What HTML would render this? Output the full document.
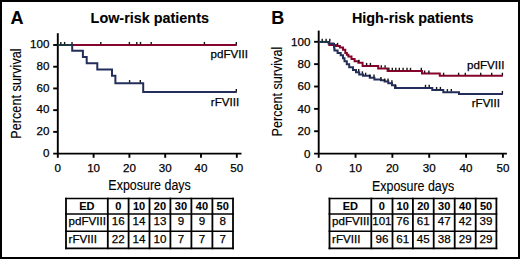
<!DOCTYPE html>
<html><head><meta charset="utf-8"><style>
html,body{margin:0;padding:0;background:#fff;}
body{width:520px;height:259px;overflow:hidden;position:relative;}
.frame{position:absolute;left:0;top:0;width:516px;height:255px;border:2px solid #000;}
svg{position:absolute;left:0;top:0;}
.t{font-family:"Liberation Sans",sans-serif;fill:#000;stroke:#000;stroke-width:0.25px;}
.ns{stroke-width:0.12px;}
.b{stroke-width:0.1px;}
</style></head><body>
<div class="frame"></div>
<svg width="520" height="259" viewBox="0 0 520 259">
<line x1="57.8" y1="33.2" x2="57.8" y2="157.8" stroke="#000" stroke-width="1.9"/>
<line x1="53.2" y1="153.6" x2="241.5" y2="153.6" stroke="#000" stroke-width="1.9"/>
<line x1="53.2" y1="131.88" x2="57.8" y2="131.88" stroke="#000" stroke-width="1.9"/>
<line x1="53.2" y1="110.16" x2="57.8" y2="110.16" stroke="#000" stroke-width="1.9"/>
<line x1="53.2" y1="88.44" x2="57.8" y2="88.44" stroke="#000" stroke-width="1.9"/>
<line x1="53.2" y1="66.72" x2="57.8" y2="66.72" stroke="#000" stroke-width="1.9"/>
<line x1="53.2" y1="45.0" x2="57.8" y2="45.0" stroke="#000" stroke-width="1.9"/>
<line x1="93.6" y1="153.6" x2="93.6" y2="157.8" stroke="#000" stroke-width="1.9"/>
<line x1="129.4" y1="153.6" x2="129.4" y2="157.8" stroke="#000" stroke-width="1.9"/>
<line x1="165.2" y1="153.6" x2="165.2" y2="157.8" stroke="#000" stroke-width="1.9"/>
<line x1="201.0" y1="153.6" x2="201.0" y2="157.8" stroke="#000" stroke-width="1.9"/>
<line x1="236.8" y1="153.6" x2="236.8" y2="157.8" stroke="#000" stroke-width="1.9"/>
<text class="t" x="49.4" y="156.8" font-size="11.6" text-anchor="end">0</text>
<text class="t" x="49.4" y="135.08" font-size="11.6" text-anchor="end">20</text>
<text class="t" x="49.4" y="113.36" font-size="11.6" text-anchor="end">40</text>
<text class="t" x="49.4" y="91.64" font-size="11.6" text-anchor="end">60</text>
<text class="t" x="49.4" y="69.92" font-size="11.6" text-anchor="end">80</text>
<text class="t" x="49.4" y="48.2" font-size="11.6" text-anchor="end">100</text>
<text class="t" x="57.8" y="171.7" font-size="11.6" text-anchor="middle">0</text>
<text class="t" x="93.6" y="171.7" font-size="11.6" text-anchor="middle">10</text>
<text class="t" x="129.4" y="171.7" font-size="11.6" text-anchor="middle">20</text>
<text class="t" x="165.2" y="171.7" font-size="11.6" text-anchor="middle">30</text>
<text class="t" x="201.0" y="171.7" font-size="11.6" text-anchor="middle">40</text>
<text class="t" x="236.8" y="171.7" font-size="11.6" text-anchor="middle">50</text>
<line x1="318.7" y1="30.6" x2="318.7" y2="157.8" stroke="#000" stroke-width="1.9"/>
<line x1="314.1" y1="153.6" x2="506.9" y2="153.6" stroke="#000" stroke-width="1.9"/>
<line x1="314.1" y1="131.24" x2="318.7" y2="131.24" stroke="#000" stroke-width="1.9"/>
<line x1="314.1" y1="108.88" x2="318.7" y2="108.88" stroke="#000" stroke-width="1.9"/>
<line x1="314.1" y1="86.52" x2="318.7" y2="86.52" stroke="#000" stroke-width="1.9"/>
<line x1="314.1" y1="64.16" x2="318.7" y2="64.16" stroke="#000" stroke-width="1.9"/>
<line x1="314.1" y1="41.8" x2="318.7" y2="41.8" stroke="#000" stroke-width="1.9"/>
<line x1="355.54" y1="153.6" x2="355.54" y2="157.8" stroke="#000" stroke-width="1.9"/>
<line x1="392.38" y1="153.6" x2="392.38" y2="157.8" stroke="#000" stroke-width="1.9"/>
<line x1="429.22" y1="153.6" x2="429.22" y2="157.8" stroke="#000" stroke-width="1.9"/>
<line x1="466.06" y1="153.6" x2="466.06" y2="157.8" stroke="#000" stroke-width="1.9"/>
<line x1="502.9" y1="153.6" x2="502.9" y2="157.8" stroke="#000" stroke-width="1.9"/>
<text class="t" x="310.4" y="157.5" font-size="11.6" text-anchor="end">0</text>
<text class="t" x="310.4" y="135.14" font-size="11.6" text-anchor="end">20</text>
<text class="t" x="310.4" y="112.78" font-size="11.6" text-anchor="end">40</text>
<text class="t" x="310.4" y="90.42" font-size="11.6" text-anchor="end">60</text>
<text class="t" x="310.4" y="68.06" font-size="11.6" text-anchor="end">80</text>
<text class="t" x="310.4" y="45.7" font-size="11.6" text-anchor="end">100</text>
<text class="t" x="318.7" y="171.7" font-size="11.6" text-anchor="middle">0</text>
<text class="t" x="355.54" y="171.7" font-size="11.6" text-anchor="middle">10</text>
<text class="t" x="392.38" y="171.7" font-size="11.6" text-anchor="middle">20</text>
<text class="t" x="429.22" y="171.7" font-size="11.6" text-anchor="middle">30</text>
<text class="t" x="466.06" y="171.7" font-size="11.6" text-anchor="middle">40</text>
<text class="t" x="502.9" y="171.7" font-size="11.6" text-anchor="middle">50</text>
<path d="M57.8,45.0H236.8" fill="none" stroke="#86042c" stroke-width="2.0"/>
<line x1="100.8" y1="44.4" x2="100.8" y2="41.9" stroke="#141414" stroke-width="1.4"/>
<line x1="129.4" y1="44.4" x2="129.4" y2="41.9" stroke="#141414" stroke-width="1.4"/>
<line x1="136.8" y1="44.4" x2="136.8" y2="41.9" stroke="#141414" stroke-width="1.4"/>
<line x1="140.5" y1="44.4" x2="140.5" y2="41.9" stroke="#141414" stroke-width="1.4"/>
<line x1="151.2" y1="44.4" x2="151.2" y2="41.9" stroke="#141414" stroke-width="1.4"/>
<line x1="204.4" y1="44.4" x2="204.4" y2="41.9" stroke="#141414" stroke-width="1.4"/>
<line x1="236.3" y1="44.4" x2="236.3" y2="41.9" stroke="#141414" stroke-width="1.4"/>
<path d="M57.8,45.0H72.2V50.7H82.9V57.0H86.7V63.2H97.3V69.5H112.0V75.7H115.4V83.2H143.2V92.0H236.8" fill="none" stroke="#232f5a" stroke-width="2.0"/>
<path d="M57.8,45.0H72.2" fill="none" stroke="#1d3a44" stroke-width="2.0"/>
<line x1="60.8" y1="44.4" x2="60.8" y2="41.9" stroke="#141414" stroke-width="1.4"/>
<line x1="64.6" y1="44.4" x2="64.6" y2="41.9" stroke="#141414" stroke-width="1.4"/>
<line x1="72.0" y1="44.4" x2="72.0" y2="41.9" stroke="#141414" stroke-width="1.4"/>
<line x1="129.6" y1="82.6" x2="129.6" y2="80.1" stroke="#141414" stroke-width="1.4"/>
<line x1="140.3" y1="82.6" x2="140.3" y2="80.1" stroke="#141414" stroke-width="1.4"/>
<line x1="236.3" y1="91.4" x2="236.3" y2="88.9" stroke="#141414" stroke-width="1.4"/>
<path d="M318.7,41.9H328.3V41.9H329.3V45.0H336.0V45.9H339.9V47.4H343.0V49.8H345.3V52.9H346.85V54.75H348.4V56.6H351.5V58.9H354.6V61.2H358.4V62.8H362.6V66.0H378.2V68.4H387.6V70.9H422.0V73.6H439.8V75.8H502.9" fill="none" stroke="#86042c" stroke-width="2.0"/>
<line x1="337.6" y1="45.3" x2="337.6" y2="42.8" stroke="#141414" stroke-width="1.4"/>
<line x1="358.9" y1="62.2" x2="358.9" y2="59.7" stroke="#141414" stroke-width="1.4"/>
<line x1="366.6" y1="65.4" x2="366.6" y2="62.9" stroke="#141414" stroke-width="1.4"/>
<line x1="370.4" y1="65.4" x2="370.4" y2="62.9" stroke="#141414" stroke-width="1.4"/>
<line x1="381.3" y1="67.8" x2="381.3" y2="65.3" stroke="#141414" stroke-width="1.4"/>
<line x1="385.1" y1="67.8" x2="385.1" y2="65.3" stroke="#141414" stroke-width="1.4"/>
<line x1="388.9" y1="70.3" x2="388.9" y2="67.8" stroke="#141414" stroke-width="1.4"/>
<line x1="392.3" y1="70.3" x2="392.3" y2="67.8" stroke="#141414" stroke-width="1.4"/>
<line x1="395.8" y1="70.3" x2="395.8" y2="67.8" stroke="#141414" stroke-width="1.4"/>
<line x1="399.3" y1="70.3" x2="399.3" y2="67.8" stroke="#141414" stroke-width="1.4"/>
<line x1="403.1" y1="70.3" x2="403.1" y2="67.8" stroke="#141414" stroke-width="1.4"/>
<line x1="407.0" y1="70.3" x2="407.0" y2="67.8" stroke="#141414" stroke-width="1.4"/>
<line x1="410.5" y1="70.3" x2="410.5" y2="67.8" stroke="#141414" stroke-width="1.4"/>
<line x1="421.3" y1="70.3" x2="421.3" y2="67.8" stroke="#141414" stroke-width="1.4"/>
<line x1="424.6" y1="73.0" x2="424.6" y2="70.5" stroke="#141414" stroke-width="1.4"/>
<line x1="428.9" y1="73.0" x2="428.9" y2="70.5" stroke="#141414" stroke-width="1.4"/>
<line x1="443.6" y1="75.2" x2="443.6" y2="72.7" stroke="#141414" stroke-width="1.4"/>
<line x1="458.6" y1="75.2" x2="458.6" y2="72.7" stroke="#141414" stroke-width="1.4"/>
<line x1="465.3" y1="75.2" x2="465.3" y2="72.7" stroke="#141414" stroke-width="1.4"/>
<line x1="480.7" y1="75.2" x2="480.7" y2="72.7" stroke="#141414" stroke-width="1.4"/>
<line x1="491.7" y1="75.2" x2="491.7" y2="72.7" stroke="#141414" stroke-width="1.4"/>
<line x1="502.4" y1="75.2" x2="502.4" y2="72.7" stroke="#141414" stroke-width="1.4"/>
<path d="M318.7,41.9H328.3V41.9H328.6V43.4H333.0V43.8H334.0V47.0H334.25V48.8H334.5V50.6H337.6V53.0H340.7V55.3H343.0V58.2H344.5V61.2H346.8V64.3H349.2V67.3H353.0V69.9H356.0V72.2H359.2V74.4H363.0V75.8H369.8V77.7H374.4V79.6H380.9V80.2H384.6V81.6H388.3V83.3H392.0V85.3H395.0V87.9H432.3V90.0H443.3V92.2H459.0V94.0H502.9" fill="none" stroke="#232f5a" stroke-width="2.0"/>
<path d="M318.7,41.9H328.3" fill="none" stroke="#1d3a44" stroke-width="2.0"/>
<line x1="322.2" y1="41.3" x2="322.2" y2="38.8" stroke="#141414" stroke-width="1.4"/>
<line x1="326.1" y1="41.3" x2="326.1" y2="38.8" stroke="#141414" stroke-width="1.4"/>
<line x1="329.8" y1="41.3" x2="329.8" y2="38.8" stroke="#141414" stroke-width="1.4"/>
<line x1="358.7" y1="71.6" x2="358.7" y2="69.1" stroke="#141414" stroke-width="1.4"/>
<line x1="362.4" y1="73.8" x2="362.4" y2="71.3" stroke="#141414" stroke-width="1.4"/>
<line x1="365.6" y1="75.2" x2="365.6" y2="72.7" stroke="#141414" stroke-width="1.4"/>
<line x1="369.8" y1="77.1" x2="369.8" y2="74.6" stroke="#141414" stroke-width="1.4"/>
<line x1="374.0" y1="77.1" x2="374.0" y2="74.6" stroke="#141414" stroke-width="1.4"/>
<line x1="380.9" y1="79.6" x2="380.9" y2="77.1" stroke="#141414" stroke-width="1.4"/>
<line x1="384.6" y1="81.0" x2="384.6" y2="78.5" stroke="#141414" stroke-width="1.4"/>
<line x1="388.0" y1="81.0" x2="388.0" y2="78.5" stroke="#141414" stroke-width="1.4"/>
<line x1="391.9" y1="82.7" x2="391.9" y2="80.2" stroke="#141414" stroke-width="1.4"/>
<line x1="395.8" y1="87.3" x2="395.8" y2="84.8" stroke="#141414" stroke-width="1.4"/>
<line x1="425.5" y1="87.3" x2="425.5" y2="84.8" stroke="#141414" stroke-width="1.4"/>
<line x1="429.2" y1="87.3" x2="429.2" y2="84.8" stroke="#141414" stroke-width="1.4"/>
<line x1="436.6" y1="89.4" x2="436.6" y2="86.9" stroke="#141414" stroke-width="1.4"/>
<line x1="440.4" y1="89.4" x2="440.4" y2="86.9" stroke="#141414" stroke-width="1.4"/>
<line x1="447.4" y1="91.6" x2="447.4" y2="89.1" stroke="#141414" stroke-width="1.4"/>
<line x1="451.3" y1="91.6" x2="451.3" y2="89.1" stroke="#141414" stroke-width="1.4"/>
<line x1="502.4" y1="93.4" x2="502.4" y2="90.9" stroke="#141414" stroke-width="1.4"/>
<text class="t" x="210.6" y="57.8" font-size="11.6">pdFVIII</text>
<text class="t" x="210.8" y="105.5" font-size="11.6">rFVIII</text>
<text class="t" x="467.0" y="68.8" font-size="11.6">pdFVIII</text>
<text class="t" x="471.7" y="106.7" font-size="11.6">rFVIII</text>
<text class="t b" x="10.6" y="24" font-size="18" font-weight="bold">A</text>
<text class="t b" x="271.2" y="24" font-size="18" font-weight="bold">B</text>
<text class="t b" x="90.6" y="22.6" font-size="14.4" font-weight="bold">Low-risk patients</text>
<text class="t b" x="351.9" y="22.6" font-size="14.4" font-weight="bold">High-risk patients</text>
<text class="t ns" x="149.6" y="190.4" font-size="15.2" text-anchor="middle" textLength="82.5" lengthAdjust="spacingAndGlyphs">Exposure days</text>
<text class="t ns" x="413.1" y="190.5" font-size="15.2" text-anchor="middle" textLength="82.3" lengthAdjust="spacingAndGlyphs">Exposure days</text>
<text class="t ns" transform="translate(21.3,93.55) rotate(-90)" font-size="14.4" text-anchor="middle" textLength="90.5" lengthAdjust="spacingAndGlyphs">Percent survival</text>
<text class="t ns" transform="translate(281.5,91.65) rotate(-90)" font-size="14.4" text-anchor="middle" textLength="89.7" lengthAdjust="spacingAndGlyphs">Percent survival</text>
<line x1="66.0" y1="197.7" x2="66.0" y2="249.2" stroke="#000" stroke-width="1.8"/>
<line x1="107.8" y1="197.7" x2="107.8" y2="249.2" stroke="#000" stroke-width="1.8"/>
<line x1="128.6" y1="197.7" x2="128.6" y2="249.2" stroke="#000" stroke-width="1.8"/>
<line x1="149.5" y1="197.7" x2="149.5" y2="249.2" stroke="#000" stroke-width="1.8"/>
<line x1="170.4" y1="197.7" x2="170.4" y2="249.2" stroke="#000" stroke-width="1.8"/>
<line x1="191.4" y1="197.7" x2="191.4" y2="249.2" stroke="#000" stroke-width="1.8"/>
<line x1="212.4" y1="197.7" x2="212.4" y2="249.2" stroke="#000" stroke-width="1.8"/>
<line x1="233.0" y1="197.7" x2="233.0" y2="249.2" stroke="#000" stroke-width="1.8"/>
<line x1="65.1" y1="198.5" x2="233.9" y2="198.5" stroke="#000" stroke-width="1.6"/>
<line x1="65.1" y1="214.0" x2="233.9" y2="214.0" stroke="#000" stroke-width="1.6"/>
<line x1="65.1" y1="231.3" x2="233.9" y2="231.3" stroke="#000" stroke-width="1.6"/>
<line x1="65.1" y1="248.4" x2="233.9" y2="248.4" stroke="#000" stroke-width="1.6"/>
<text class="t b" x="86.9" y="209.5" font-size="11" font-weight="bold" text-anchor="middle">ED</text>
<text class="t b" x="118.2" y="209.5" font-size="11" font-weight="bold" text-anchor="middle">0</text>
<text class="t b" x="139.05" y="209.5" font-size="11" font-weight="bold" text-anchor="middle">10</text>
<text class="t b" x="159.95" y="209.5" font-size="11" font-weight="bold" text-anchor="middle">20</text>
<text class="t b" x="180.9" y="209.5" font-size="11" font-weight="bold" text-anchor="middle">30</text>
<text class="t b" x="201.9" y="209.5" font-size="11" font-weight="bold" text-anchor="middle">40</text>
<text class="t b" x="222.7" y="209.5" font-size="11" font-weight="bold" text-anchor="middle">50</text>
<text class="t" x="68.6" y="225.0" font-size="11.6">pdFVIII</text>
<text class="t" x="118.2" y="225.0" font-size="11.6" text-anchor="middle">16</text>
<text class="t" x="139.05" y="225.0" font-size="11.6" text-anchor="middle">14</text>
<text class="t" x="159.95" y="225.0" font-size="11.6" text-anchor="middle">13</text>
<text class="t" x="180.9" y="225.0" font-size="11.6" text-anchor="middle">9</text>
<text class="t" x="201.9" y="225.0" font-size="11.6" text-anchor="middle">9</text>
<text class="t" x="222.7" y="225.0" font-size="11.6" text-anchor="middle">8</text>
<text class="t" x="68.6" y="242.9" font-size="11.6">rFVIII</text>
<text class="t" x="118.2" y="242.9" font-size="11.6" text-anchor="middle">22</text>
<text class="t" x="139.05" y="242.9" font-size="11.6" text-anchor="middle">14</text>
<text class="t" x="159.95" y="242.9" font-size="11.6" text-anchor="middle">10</text>
<text class="t" x="180.9" y="242.9" font-size="11.6" text-anchor="middle">7</text>
<text class="t" x="201.9" y="242.9" font-size="11.6" text-anchor="middle">7</text>
<text class="t" x="222.7" y="242.9" font-size="11.6" text-anchor="middle">7</text>
<line x1="329.5" y1="197.7" x2="329.5" y2="249.2" stroke="#000" stroke-width="1.8"/>
<line x1="371.3" y1="197.7" x2="371.3" y2="249.2" stroke="#000" stroke-width="1.8"/>
<line x1="392.5" y1="197.7" x2="392.5" y2="249.2" stroke="#000" stroke-width="1.8"/>
<line x1="412.9" y1="197.7" x2="412.9" y2="249.2" stroke="#000" stroke-width="1.8"/>
<line x1="433.7" y1="197.7" x2="433.7" y2="249.2" stroke="#000" stroke-width="1.8"/>
<line x1="454.7" y1="197.7" x2="454.7" y2="249.2" stroke="#000" stroke-width="1.8"/>
<line x1="475.7" y1="197.7" x2="475.7" y2="249.2" stroke="#000" stroke-width="1.8"/>
<line x1="496.4" y1="197.7" x2="496.4" y2="249.2" stroke="#000" stroke-width="1.8"/>
<line x1="328.6" y1="198.5" x2="497.3" y2="198.5" stroke="#000" stroke-width="1.6"/>
<line x1="328.6" y1="214.0" x2="497.3" y2="214.0" stroke="#000" stroke-width="1.6"/>
<line x1="328.6" y1="231.3" x2="497.3" y2="231.3" stroke="#000" stroke-width="1.6"/>
<line x1="328.6" y1="248.4" x2="497.3" y2="248.4" stroke="#000" stroke-width="1.6"/>
<text class="t b" x="350.4" y="209.5" font-size="11" font-weight="bold" text-anchor="middle">ED</text>
<text class="t b" x="381.9" y="209.5" font-size="11" font-weight="bold" text-anchor="middle">0</text>
<text class="t b" x="402.7" y="209.5" font-size="11" font-weight="bold" text-anchor="middle">10</text>
<text class="t b" x="423.3" y="209.5" font-size="11" font-weight="bold" text-anchor="middle">20</text>
<text class="t b" x="444.2" y="209.5" font-size="11" font-weight="bold" text-anchor="middle">30</text>
<text class="t b" x="465.2" y="209.5" font-size="11" font-weight="bold" text-anchor="middle">40</text>
<text class="t b" x="486.05" y="209.5" font-size="11" font-weight="bold" text-anchor="middle">50</text>
<text class="t" x="332.1" y="225.0" font-size="11.6">pdFVIII</text>
<text class="t" x="381.9" y="225.0" font-size="11.6" text-anchor="middle">101</text>
<text class="t" x="402.7" y="225.0" font-size="11.6" text-anchor="middle">76</text>
<text class="t" x="423.3" y="225.0" font-size="11.6" text-anchor="middle">61</text>
<text class="t" x="444.2" y="225.0" font-size="11.6" text-anchor="middle">47</text>
<text class="t" x="465.2" y="225.0" font-size="11.6" text-anchor="middle">42</text>
<text class="t" x="486.05" y="225.0" font-size="11.6" text-anchor="middle">39</text>
<text class="t" x="332.1" y="242.9" font-size="11.6">rFVIII</text>
<text class="t" x="381.9" y="242.9" font-size="11.6" text-anchor="middle">96</text>
<text class="t" x="402.7" y="242.9" font-size="11.6" text-anchor="middle">61</text>
<text class="t" x="423.3" y="242.9" font-size="11.6" text-anchor="middle">45</text>
<text class="t" x="444.2" y="242.9" font-size="11.6" text-anchor="middle">38</text>
<text class="t" x="465.2" y="242.9" font-size="11.6" text-anchor="middle">29</text>
<text class="t" x="486.05" y="242.9" font-size="11.6" text-anchor="middle">29</text>
</svg>
</body></html>
